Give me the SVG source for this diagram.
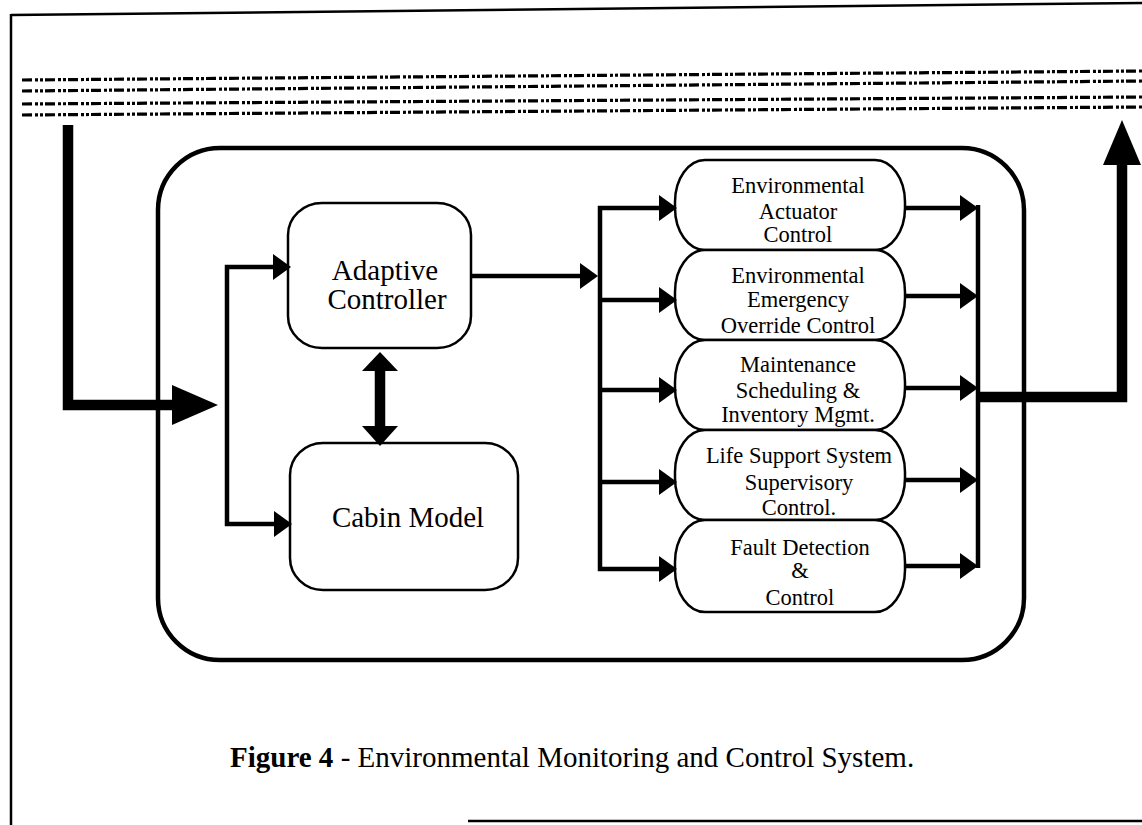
<svg xmlns="http://www.w3.org/2000/svg" width="1142" height="825" viewBox="0 0 1142 825">
<style>
.box{fill:#fff;stroke:#000;stroke-width:2.5}
.outer{fill:none;stroke:#000;stroke-width:4.5}
.t{font-family:"Liberation Serif","Times New Roman",serif;fill:#000;text-anchor:middle}
.big{font-size:29px}
.sm{font-size:22.5px}
.cap{font-family:"Liberation Serif","Times New Roman",serif;font-size:29px;fill:#000}
.ln{fill:none;stroke:#000;stroke-width:4.5;stroke-linejoin:miter}
.thick{fill:none;stroke:#000;stroke-width:10.5;stroke-linejoin:miter}
.dots{fill:none;stroke:#000;stroke-width:3.2;stroke-dasharray:10 3 3 2 3 2}
.frame{fill:none;stroke:#000;stroke-width:2.5}
</style>
<defs>
<marker id="ah" markerUnits="userSpaceOnUse" markerWidth="18" markerHeight="26" refX="9" refY="13" orient="auto-start-reverse">
<path d="M0,0 L18,13 L0,26 z" fill="#000"/>
</marker>
</defs>
<rect width="1142" height="825" fill="#fff"/>
<g id="frame">
<line class="frame" x1="11" y1="15" x2="1142" y2="3"/>
<line class="frame" x1="11" y1="14" x2="11" y2="825"/>
<line class="frame" x1="468" y1="821" x2="1142" y2="821" stroke-width="3"/>
<line class="dots" x1="22" y1="80" x2="1142" y2="71"/>
<line class="dots" x1="22" y1="91" x2="1142" y2="81"/>
<line class="dots" x1="22" y1="104" x2="1142" y2="97"/>
<line class="dots" x1="22" y1="115" x2="1142" y2="107"/>
</g>
<g id="system">
<rect class="outer" x="158" y="148" width="866" height="512" rx="62" ry="62"/>
</g>
<g id="adaptive-controller">
<rect class="box" x="288" y="203" width="183" height="145" rx="34" ry="32"/>
<text class="t big" x="385" y="280">Adaptive</text>
<text class="t big" x="387" y="309">Controller</text>
</g>
<g id="cabin-model">
<rect class="box" x="290" y="443" width="228" height="147" rx="33" ry="32"/>
<text class="t big" x="408" y="527">Cabin Model</text>
</g>
<g id="env-actuator">
<rect class="box" x="675" y="160" width="230" height="90" rx="30" ry="42"/>
<text class="t sm" x="798" y="193">Environmental</text>
<text class="t sm" x="798" y="219">Actuator</text>
<text class="t sm" x="798" y="242">Control</text>
</g>
<g id="env-emergency">
<rect class="box" x="675" y="250" width="230" height="90" rx="30" ry="42"/>
<text class="t sm" x="798" y="283">Environmental</text>
<text class="t sm" x="798" y="307">Emergency</text>
<text class="t sm" x="798" y="333">Override Control</text>
</g>
<g id="maintenance">
<rect class="box" x="675" y="340" width="230" height="90" rx="30" ry="42"/>
<text class="t sm" x="798" y="372">Maintenance</text>
<text class="t sm" x="798" y="398">Scheduling &amp;</text>
<text class="t sm" x="798" y="422">Inventory Mgmt.</text>
</g>
<g id="life-support">
<rect class="box" x="675" y="430" width="230" height="90" rx="30" ry="42"/>
<text class="t sm" x="799" y="463">Life Support System</text>
<text class="t sm" x="799" y="490">Supervisory</text>
<text class="t sm" x="799" y="515">Control.</text>
</g>
<g id="fault-detection">
<rect class="box" x="675" y="520" width="230" height="92" rx="30" ry="42"/>
<text class="t sm" x="800" y="555">Fault Detection</text>
<text class="t sm" x="800" y="578">&amp;</text>
<text class="t sm" x="800" y="605">Control</text>
</g>
<g id="connectors">
<path class="thick" d="M68,125 V405 H180"/>
<polygon points="172,385 218,405 172,425" fill="#000"/>
<path class="ln" d="M282,267 H227 V524 H283" marker-start="url(#ah)" marker-end="url(#ah)"/>
<path class="thick" d="M380,368 V430" stroke-width="11"/>
<polygon points="362,371 380,352 398,371" fill="#000"/>
<polygon points="362,426 380,446 398,426" fill="#000"/>
<path class="ln" d="M471,276 H589" marker-end="url(#ah)"/>
<path class="ln" d="M668,208 H600 V569 H668" marker-start="url(#ah)" marker-end="url(#ah)"/>
<path class="ln" d="M600,300 H668" marker-end="url(#ah)"/>
<path class="ln" d="M600,390 H668" marker-end="url(#ah)"/>
<path class="ln" d="M600,482 H668" marker-end="url(#ah)"/>
<path class="ln" d="M905,208 H969" marker-end="url(#ah)"/>
<path class="ln" d="M905,296 H969" marker-end="url(#ah)"/>
<path class="ln" d="M905,388 H969" marker-end="url(#ah)"/>
<path class="ln" d="M905,480 H969" marker-end="url(#ah)"/>
<path class="ln" d="M905,566 H969" marker-end="url(#ah)"/>
<path class="ln" d="M978,205 V568"/>
<path class="thick" d="M976,397 H1122 V160"/>
<polygon points="1103,165 1122,120 1141,165" fill="#000"/>
</g>
<g id="caption">
<text class="cap" x="230" y="767"><tspan font-weight="bold">Figure 4</tspan> - Environmental Monitoring and Control System.</text>
</g>
</svg>
